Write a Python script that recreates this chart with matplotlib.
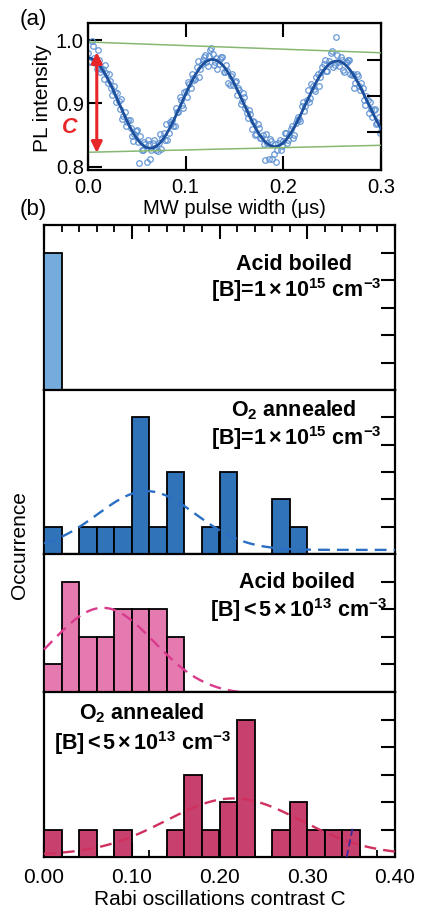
import numpy as np
import matplotlib.pyplot as plt
from matplotlib.ticker import MultipleLocator, FormatStrFormatter

plt.rcParams['font.family'] = ['Liberation Sans', 'DejaVu Sans']
plt.rcParams['mathtext.fontset'] = 'custom'
plt.rcParams['mathtext.rm'] = 'Liberation Sans:bold'
plt.rcParams['mathtext.it'] = 'Liberation Sans:bold:italic'
plt.rcParams['mathtext.bf'] = 'Liberation Sans:bold'
plt.rcParams['mathtext.default'] = 'rm'

# --------------------------------------------------
# (a) Rabi oscillation, two sweeps
# --------------------------------------------------
pulse_a = np.linspace(0.0, 0.3, 121)
pl_a = [0.980, 0.967, 0.990, 0.964, 0.985, 0.950, 0.955, 0.961, 0.933, 0.936,
        0.913, 0.918, 0.916, 0.892, 0.876, 0.886, 0.870, 0.874, 0.849, 0.852,
        0.858, 0.806, 0.826, 0.839, 0.808, 0.836, 0.826, 0.842, 0.827, 0.838,
        0.828, 0.853, 0.867, 0.853, 0.868, 0.864, 0.893, 0.887, 0.905, 0.893,
        0.919, 0.934, 0.925, 0.940, 0.938, 0.967, 0.954, 0.968, 0.976, 0.959,
        0.985, 0.978, 0.965, 0.955, 0.970, 0.974, 0.950, 0.952, 0.929, 0.946,
        0.934, 0.913, 0.921, 0.904, 0.910, 0.885, 0.890, 0.860, 0.870, 0.852,
        0.862, 0.846, 0.836, 0.852, 0.812, 0.840, 0.821, 0.807, 0.838, 0.827,
        0.840, 0.853, 0.843, 0.860, 0.845, 0.869, 0.879, 0.872, 0.902, 0.896,
        0.921, 0.908, 0.927, 0.920, 0.946, 0.941, 0.957, 0.968, 0.951, 0.963,
        0.983, 0.961, 0.977, 0.959, 0.968, 0.950, 0.965, 0.969, 0.945, 0.924,
        0.946, 0.928, 0.933, 0.906, 0.911, 0.885, 0.892, 0.890, 0.868, 0.879,
        0.856]

pulse_b = np.linspace(0.00125, 0.29875, 120)
pl_b = [0.966, 0.998, 0.971, 0.955, 0.969, 0.954, 0.938, 0.948, 0.947, 0.924,
        0.927, 0.902, 0.904, 0.907, 0.881, 0.865, 0.874, 0.862, 0.840, 0.857,
        0.839, 0.848, 0.827, 0.836, 0.842, 0.813, 0.838, 0.830, 0.825, 0.852,
        0.846, 0.842, 0.843, 0.870, 0.874, 0.864, 0.886, 0.910, 0.898, 0.918,
        0.910, 0.930, 0.947, 0.937, 0.957, 0.941, 0.963, 0.974, 0.965, 0.975,
        0.988, 0.961, 0.972, 0.963, 0.974, 0.949, 0.961, 0.933, 0.944, 0.929,
        0.936, 0.924, 0.899, 0.916, 0.893, 0.877, 0.883, 0.873, 0.851, 0.868,
        0.846, 0.851, 0.810, 0.838, 0.844, 0.812, 0.836, 0.826, 0.842, 0.833,
        0.853, 0.837, 0.850, 0.864, 0.850, 0.874, 0.875, 0.896, 0.888, 0.906,
        0.902, 0.931, 0.923, 0.941, 0.927, 0.949, 0.962, 0.952, 0.967, 0.980,
        0.957, 1.005, 0.965, 0.974, 0.953, 0.965, 0.969, 0.946, 0.947, 0.932,
        0.943, 0.922, 0.925, 0.898, 0.905, 0.903, 0.879, 0.892, 0.869, 0.854]

# damped cosine fit
fit_offset = 0.900
fit_amp = 0.072
fit_tau = 3.5
fit_period = 0.1275

# envelope lines (x, y at start and end)
env_x = [0.0, 0.3]
env_top = [0.997, 0.980]
env_bottom = [0.823, 0.834]

# contrast arrow
arrow_x = 0.009
arrow_top = 0.981
arrow_bottom = 0.822

# --------------------------------------------------
# (b) contrast histograms
# --------------------------------------------------
bin_width = 0.02
bin_left = np.round(np.arange(20) * bin_width, 2)

counts_acid_hi = [5, 0, 0, 0, 0, 0, 0, 0, 0, 0, 0, 0, 0, 0, 0, 0, 0, 0, 0, 0]
counts_o2_hi = [1, 0, 1, 1, 1, 5, 1, 3, 0, 1, 3, 0, 0, 2, 1, 0, 0, 0, 0, 0]
counts_acid_lo = [1, 4, 2, 2, 3, 3, 3, 2, 0, 0, 0, 0, 0, 0, 0, 0, 0, 0, 0, 0]
counts_o2_lo = [1, 0, 1, 0, 1, 0, 0, 1, 3, 1, 2, 5, 0, 1, 2, 1, 1, 1, 0, 0]

# gaussian fits: baseline, height, centre, width
gauss_o2_hi = (0.15, 2.15, 0.117, 0.056)
gauss_acid_lo = (-0.09, 3.14, 0.067, 0.0585)
gauss_o2_lo = (0.08, 2.05, 0.216, 0.077)

W, H = 424, 908
fig = plt.figure(figsize=(W / 100, H / 100), dpi=100)


def rect(x0, y0, x1, y1):
    return [x0 / W, 1 - y1 / H, (x1 - x0) / W, (y1 - y0) / H]


# ---------------- panel (a) ----------------
ax = fig.add_axes(rect(88, 23, 381, 170))
ax.plot(pulse_a, pl_a, 'o', ms=4, mfc='none', mec='#5a8fd2', mew=0.9, alpha=0.9, zorder=2)
ax.plot(pulse_b, pl_b, 'o', ms=4, mfc='none', mec='#5a8fd2', mew=0.9, alpha=0.9, zorder=2)

fx = np.linspace(0, 0.3, 500)
fy = fit_offset + fit_amp * np.exp(-fx / fit_tau) * np.cos(2 * np.pi * fx / fit_period)
ax.plot(fx, fy, color='#1c4f9c', lw=2, zorder=3)

ax.plot(env_x, env_top, color='#86b872', lw=1.1, zorder=4)
ax.plot(env_x, env_bottom, color='#86b872', lw=1.1, zorder=4)

ax.annotate('', xy=(arrow_x, arrow_top), xytext=(arrow_x, arrow_bottom),
            arrowprops=dict(arrowstyle='<|-|>', color='#e8262a', lw=2.2,
                            mutation_scale=16, shrinkA=0, shrinkB=0), zorder=5)
ax.text(-0.019, 0.862, 'C', color='#e8262a', fontsize=15.5, fontweight='bold',
        fontstyle='italic', ha='center', va='center', clip_on=False)

ax.set_xlim(0, 0.3)
ax.set_ylim(0.795, 1.027)
ax.set_xticks([0.0, 0.1, 0.2, 0.3])
ax.set_yticks([0.8, 0.9, 1.0])
ax.xaxis.set_major_formatter(FormatStrFormatter('%.1f'))
ax.yaxis.set_major_formatter(FormatStrFormatter('%.1f'))
ax.tick_params(axis='x', direction='in', length=10, width=1.5, top=True,
               labelsize=14.5, pad=6)
ax.tick_params(axis='y', direction='in', length=10, width=1.5, right=False,
               labelsize=14.5, pad=3)
for s in ax.spines.values():
    s.set_linewidth(1.6)

ax_r = ax.twinx()
ax_r.set_ylim(0.795, 1.027)
ax_r.set_yticks([0.8545, 0.912, 0.968])
ax_r.tick_params(axis='y', direction='in', length=10, width=1.5, labelright=False)

fig.text(20 / W, 1 - 19 / H, '(a)', fontsize=16, ha='left', va='center')
fig.text(43 / W, 1 - 98 / H, 'PL intensity', fontsize=15, rotation=90,
         ha='center', va='center')
fig.text(234 / W, 1 - 209 / H, 'MW pulse width (μs)', fontsize=14.5,
         ha='center', va='center')

# ---------------- panel (b) ----------------
fig.text(20 / W, 1 - 209 / H, '(b)', fontsize=16, ha='left', va='center')
fig.text(20 / W, 1 - 545 / H, 'Occurrence', fontsize=15, rotation=90,
         ha='center', va='center')

panels = [
    (225, 390, counts_acid_hi, 6, '#74acde', None, None),
    (390, 554, counts_o2_hi, 6, '#3173b9', gauss_o2_hi, '#2a6fc4'),
    (554, 692, counts_acid_lo, 5, '#e47ab0', gauss_acid_lo, '#d93a8c'),
    (692, 857, counts_o2_lo, 6, '#c8416e', gauss_o2_lo, '#d0305e'),
]

axes_b = []
gx = np.linspace(0, 0.4, 400)
for i, (top, bottom, counts, ymax, color, gauss, gcolor) in enumerate(panels):
    a = fig.add_axes(rect(44, top, 395, bottom))
    counts = np.array(counts)
    keep = counts > 0
    a.bar(bin_left[keep], counts[keep], width=bin_width, align='edge',
          color=color, edgecolor='black', linewidth=1.3, zorder=3)
    if gauss is not None:
        y0, amp, xc, w = gauss
        gy = y0 + amp * np.exp(-(gx - xc) ** 2 / (2 * w ** 2))
        a.plot(gx, gy, color=gcolor, lw=1.7, ls=(0, (5, 3)), zorder=4,
               clip_on=False)
    a.set_xlim(0, 0.4)
    a.set_ylim(0, ymax)
    a.set_yticks(range(1, ymax))
    a.tick_params(axis='y', direction='in', length=10, width=1.5,
                  left=False, right=True, labelleft=False)
    a.xaxis.set_major_locator(MultipleLocator(0.1))
    a.xaxis.set_minor_locator(MultipleLocator(0.02))
    a.tick_params(axis='x', which='major', direction='in', length=10, width=1.5)
    a.tick_params(axis='x', which='minor', direction='in', length=5, width=1.3)
    if i == 0:
        a.tick_params(axis='x', which='both', top=True, bottom=False,
                      labelbottom=False)
    elif i == 3:
        a.tick_params(axis='x', which='both', top=False, bottom=True,
                      labelsize=15, pad=8)
        a.xaxis.set_major_formatter(FormatStrFormatter('%.2f'))
    else:
        a.tick_params(axis='x', which='both', top=False, bottom=False,
                      labelbottom=False)
    for s in a.spines.values():
        s.set_linewidth(1.6)
    axes_b.append(a)

# stray dashed mark in the last panel
axes_b[3].plot([0.345, 0.352], [0.0, 1.1], color='#3a2a9a', lw=1.3,
               ls=(0, (4, 2)), zorder=5)

axes_b[3].set_xlabel('Rabi oscillations contrast C', fontsize=15, labelpad=2)

lbl = dict(fontsize=15.5, fontweight='bold', ha='center', va='center')
axes_b[0].text(0.285, 4.55, 'Acid boiled', **lbl)
axes_b[0].text(0.288, 3.64, '[B]=1$\\,$×$\\,$10$^{15}$ cm$^{-3}$', **lbl)
axes_b[1].text(0.285, 5.27, 'O$_2$ annealed', **lbl)
axes_b[1].text(0.288, 4.25, '[B]=1$\\,$×$\\,$10$^{15}$ cm$^{-3}$', **lbl)
axes_b[2].text(0.288, 3.96, 'Acid boiled', **lbl)
axes_b[2].text(0.290, 2.98, '[B]$\\,$<$\\,$5$\\,$×$\\,$10$^{13}$ cm$^{-3}$', **lbl)
axes_b[3].text(0.111, 5.24, 'O$_2$ annealed', **lbl)
axes_b[3].text(0.112, 4.15, '[B]$\\,$<$\\,$5$\\,$×$\\,$10$^{13}$ cm$^{-3}$', **lbl)

fig.savefig('out.png', dpi=100)
